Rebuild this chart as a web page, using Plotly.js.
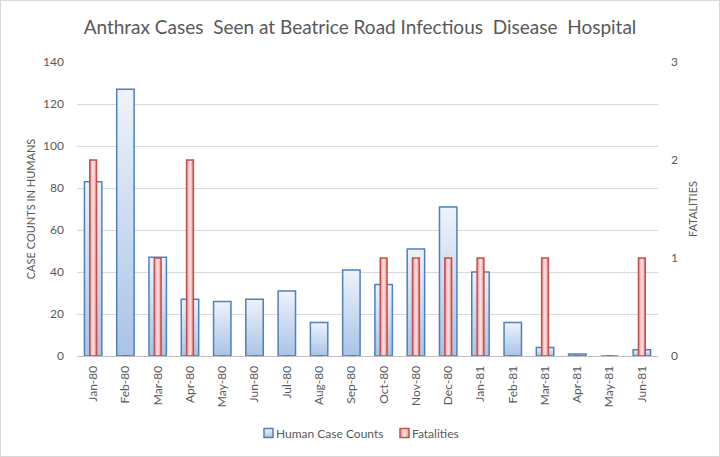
<!DOCTYPE html>
<html><head><meta charset="utf-8">
<script src="https://cdn.plot.ly/plotly-3.0.1.min.js"></script>
<style>
html,body{margin:0;padding:0;background:#fff;}
#chart{width:718px;height:455px;border:1px solid #d9d9d9;}
</style></head>
<body><div id="chart"></div>
<script>
const months = ["Jan-80","Feb-80","Mar-80","Apr-80","May-80","Jun-80","Jul-80","Aug-80","Sep-80","Oct-80","Nov-80","Dec-80","Jan-81","Feb-81","Mar-81","Apr-81","May-81","Jun-81"];
const humanCases = [83,127,47,27,26,27,31,16,41,34,51,71,40,16,4,1,0,3];
const fatalities = [2,0,1,2,0,0,0,0,0,1,1,1,1,0,1,0,0,1];

const font = "Lato, Noto Sans, sans-serif";
const grey = "#595959";

const traces = [
  {type:"bar", name:"Human Case Counts", x:months, y:humanCases, yaxis:"y", width:0.54,
   marker:{color:"#c9daf1", line:{color:"#4f81bd", width:1.5}}},
  {type:"bar", name:"Fatalities", x:months, y:fatalities, yaxis:"y2", width:0.21,
   marker:{color:"#f7b6b5", line:{color:"#c0504d", width:1.5}}}
];

const layout = {
  width:718, height:455,
  margin:{l:76, r:61, t:61, b:100},
  paper_bgcolor:"#fff", plot_bgcolor:"#fff",
  barmode:"overlay",
  font:{family:font, color:grey, size:12},
  title:{text:"Anthrax Cases  Seen at Beatrice Road Infectious  Disease  Hospital",
         font:{family:font, size:19, color:grey}, x:0.5, xanchor:"center", y:0.942, yanchor:"middle"},
  xaxis:{type:"category", tickangle:-90, showgrid:false, showline:true, linecolor:"#bfbfbf",
         ticks:"", ticklabelstandoff:4, automargin:false, tickfont:{size:12, color:grey}},
  yaxis:{range:[0,140], dtick:20, showgrid:true, gridcolor:"#d9d9d9", zeroline:false,
         ticks:"", ticklabelstandoff:12, automargin:false, tickfont:{size:12, color:grey},
         title:{text:"CASE COUNTS IN HUMANS", font:{size:11, color:grey}, standoff:5}},
  yaxis2:{range:[0,3], dtick:1, overlaying:"y", side:"right", showgrid:false, zeroline:false,
         ticks:"", ticklabelstandoff:12, automargin:false, tickfont:{size:12, color:grey},
         title:{text:"FATALITIES", font:{size:11, color:grey}, standoff:12}},
  legend:{orientation:"h", x:0.5, xanchor:"center", xref:"container", yref:"container",
          y:0.0505, yanchor:"middle", itemwidth:30, font:{size:12, color:grey}},
  showlegend:true
};

function addGradients(gd){
  const svg = gd.querySelector(".main-svg");
  const ns = "http://www.w3.org/2000/svg";
  let defs = svg.querySelector("defs");
  function grad(id, x2, y2, stops){
    const g = document.createElementNS(ns, "linearGradient");
    g.setAttribute("id", id);
    g.setAttribute("x1","0"); g.setAttribute("y1","0");
    g.setAttribute("x2",x2); g.setAttribute("y2",y2);
    stops.forEach(s=>{
      const st = document.createElementNS(ns,"stop");
      st.setAttribute("offset", s[0]); st.setAttribute("stop-color", s[1]);
      g.appendChild(st);
    });
    defs.appendChild(g);
  }
  grad("gBlue","0","1",[["0","#eef3fb"],["1","#a9c3e7"]]);
  grad("gRed","1","0",[["0","#f08e8d"],["0.5","#fde6e6"],["1","#f08e8d"]]);
  gd.querySelectorAll(".barlayer .trace").forEach((t,i)=>{
    t.querySelectorAll("path").forEach(p=>{ p.style.fill = i===0 ? "url(#gBlue)" : "url(#gRed)"; });
  });

  // tighten legend to the reference's compact layout
  const rootRect = gd.getBoundingClientRect();
  const wantCenters = [268.5, 404.5];
  gd.querySelectorAll(".legend .traces").forEach((t,i)=>{
    const p = t.querySelector(".legendpoints path");
    if(p){
      p.setAttribute("d","M4.5,4.5H-4.5V-4.5H4.5Z");
      p.style.fill = i===0 ? "url(#gBlue)" : "url(#gRed)";
      const r = p.getBoundingClientRect();
      const cx = r.left + r.width/2;
      const dx = (wantCenters[i] !== undefined ? wantCenters[i] : cx) - cx;
      const tr = t.getAttribute("transform") || "";
      const m = tr.match(/translate\(\s*([-\d.eE]+)[ ,]+([-\d.eE]+)\s*\)/);
      const tx = m ? parseFloat(m[1]) : 0, ty = m ? parseFloat(m[2]) : 0;
      t.setAttribute("transform", "translate(" + (tx+dx) + "," + ty + ")");
      const txt = t.querySelector(".legendtext");
      if(txt){
        const r2 = p.getBoundingClientRect();
        const c2 = r2.left + r2.width/2;
        const tr2 = txt.getBoundingClientRect();
        const shift = (c2 + 7.5) - tr2.left;
        txt.setAttribute("x", parseFloat(txt.getAttribute("x")||0) + shift);
      }
    }
  });
}

Plotly.newPlot("chart", traces, layout, {displayModeBar:false, staticPlot:true}).then(addGradients);
</script></body></html>
